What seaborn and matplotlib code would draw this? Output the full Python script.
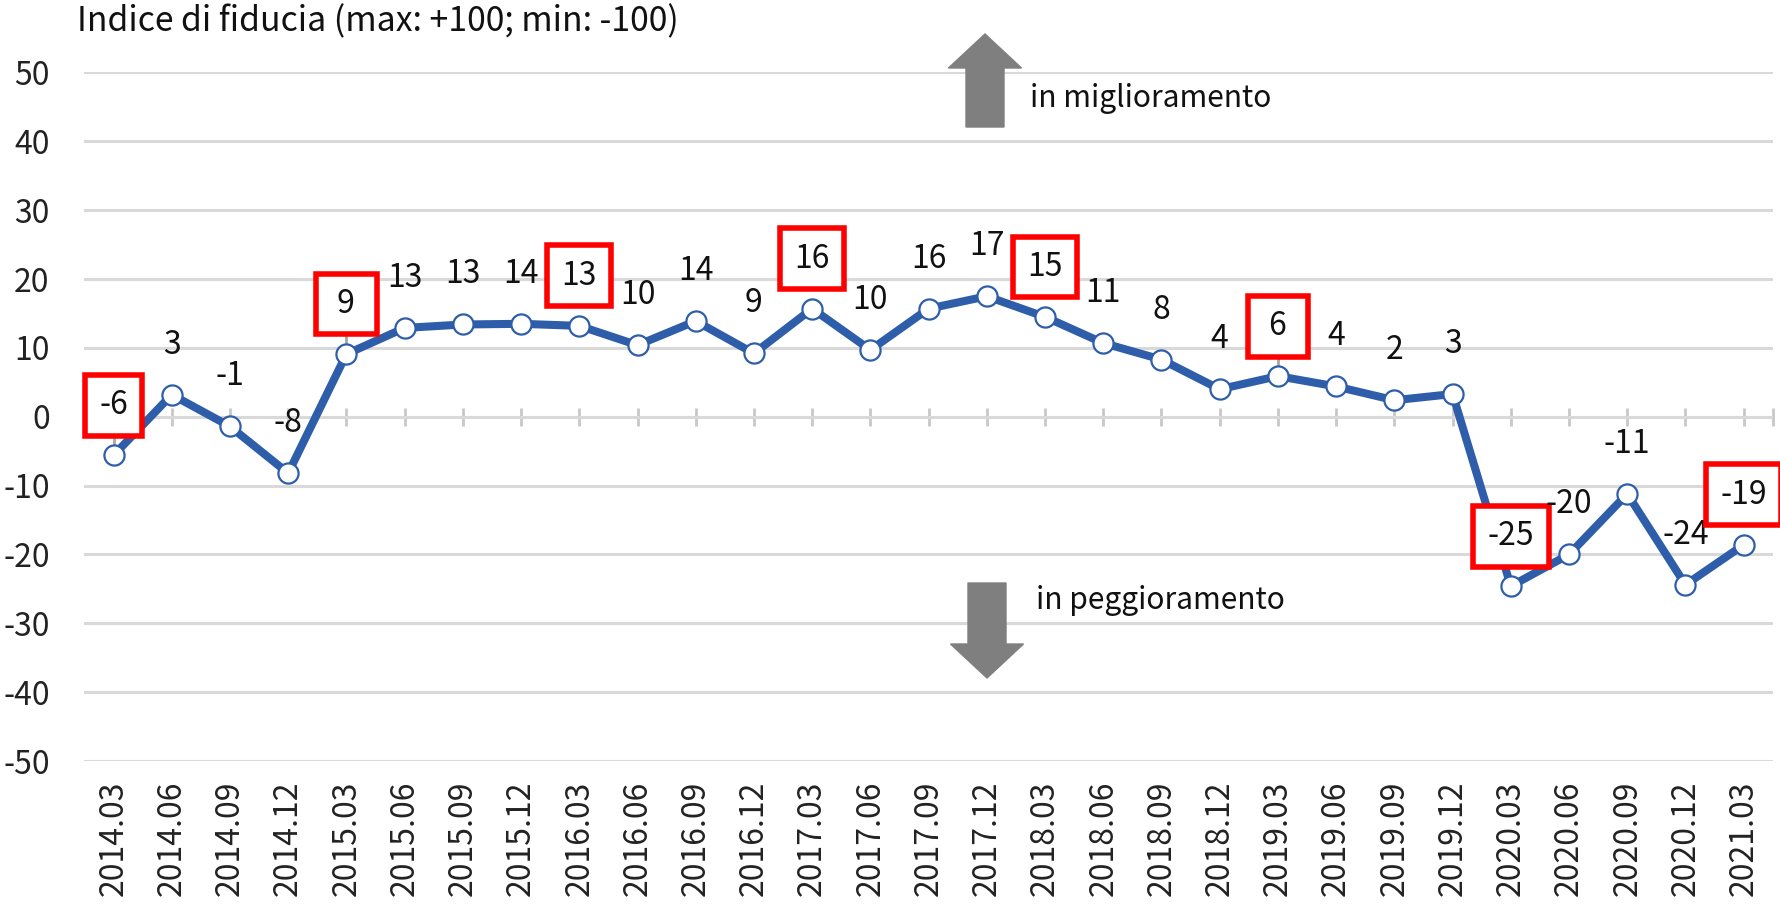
import numpy as np
import pandas as pd
import seaborn as sns
import matplotlib.pyplot as plt
from matplotlib.patches import FancyArrow

# dati
trimestri = ["2014.03", "2014.06", "2014.09", "2014.12",
             "2015.03", "2015.06", "2015.09", "2015.12",
             "2016.03", "2016.06", "2016.09", "2016.12",
             "2017.03", "2017.06", "2017.09", "2017.12",
             "2018.03", "2018.06", "2018.09", "2018.12",
             "2019.03", "2019.06", "2019.09", "2019.12",
             "2020.03", "2020.06", "2020.09", "2020.12",
             "2021.03"]
indice = [-5.6, 3.2, -1.4, -8.2,
          9.1, 12.9, 13.4, 13.5,
          13.2, 10.4, 13.9, 9.2,
          15.7, 9.7, 15.7, 17.5,
          14.5, 10.7, 8.3, 4.0,
          5.9, 4.4, 2.4, 3.3,
          -24.6, -20.0, -11.2, -24.4,
          -18.6]
etichette = ["-6", "3", "-1", "-8",
             "9", "13", "13", "14",
             "13", "10", "14", "9",
             "16", "10", "16", "17",
             "15", "11", "8", "4",
             "6", "4", "2", "3",
             "-25", "-20", "-11", "-24",
             "-19"]
con_linea = ["2014.03", "2015.03", "2019.03"]  # etichette con linea guida

df = pd.DataFrame({"trimestre": trimestri, "indice": indice, "etichetta": etichette})

sns.set_style("white")
plt.rcParams['font.family'] = ['Noto Sans CJK JP', 'DejaVu Sans']
plt.rcParams['axes.unicode_minus'] = False

blu = "#2e5ea9"
grigio = "#d9d9d9"

fig = plt.figure(figsize=(17.81, 9.06), dpi=100)
ax = fig.add_axes([0.0474, 0.160, 0.948, 0.760])

sns.lineplot(data=df, x="trimestre", y="indice", ax=ax, sort=False,
             color=blu, linewidth=5.8, marker="o", markersize=14.5,
             markerfacecolor="white", markeredgecolor=blu, markeredgewidth=1.6,
             zorder=4)

ax.set_xlim(-0.5, len(trimestri) - 0.5)
ax.set_ylim(-50, 50)
ax.set_yticks(np.arange(-50, 51, 10))
ax.yaxis.grid(True, color=grigio, linewidth=2.2)
ax.xaxis.grid(False)
ax.set_axisbelow(True)
for s in ax.spines.values():
    s.set_visible(False)
ax.set_xlabel("")
ax.set_ylabel("")
ax.tick_params(axis="y", length=0, pad=25, labelsize=23, labelcolor="#222222")
ax.tick_params(axis="x", length=0, pad=14, labelsize=23, labelcolor="#222222",
               labelrotation=90)

# tacche sull'asse dello zero
sec = ax.secondary_xaxis(0.5)
sec.set_xticks(list(range(len(trimestri))) + [len(trimestri) - 0.5])
sec.set_xticklabels([])
sec.tick_params(direction="inout", length=13, width=2, color="#c8c8c8",
                labelbottom=False, labeltop=False)
for s in sec.spines.values():
    s.set_visible(False)

# etichette dei valori
for i, row in df.iterrows():
    marzo = row["trimestre"].endswith(".03")
    testo = row["etichetta"]
    if row["trimestre"] in con_linea:
        ax.plot([i, i], [row["indice"], row["indice"] + 3.2], color="#a6a6a6",
                linewidth=2, zorder=3)
    box = None
    if marzo:
        box = dict(boxstyle="square,pad=0.45", facecolor="white",
                   edgecolor="#ff0000", linewidth=4)
        if len(testo) == 1:
            testo = " " + testo + " "  # box piu largo come nell'originale
    ax.annotate(testo, (i, row["indice"]), xytext=(0, 36),
                textcoords="offset points", ha="center", va="center",
                fontsize=23, color="#111111", bbox=box, zorder=5)

# frecce
fig.add_artist(FancyArrow(9.85, 7.79, 0, 0.93, width=0.38, head_width=0.73,
                          head_length=0.34, length_includes_head=True,
                          color="#7f7f7f", transform=fig.dpi_scale_trans))
fig.add_artist(FancyArrow(9.87, 3.23, 0, -0.95, width=0.38, head_width=0.73,
                          head_length=0.34, length_includes_head=True,
                          color="#7f7f7f", transform=fig.dpi_scale_trans))
fig.text(1030 / 1781, 1 - 98 / 906, "in miglioramento", fontsize=21.6,
         ha="left", va="center", color="#111111")
fig.text(1036 / 1781, 1 - 600 / 906, "in peggioramento", fontsize=21.6,
         ha="left", va="center", color="#111111")

fig.text(77 / 1781, 1 - 22 / 906, "Indice di fiducia (max: +100; min: -100)",
         fontsize=24.3, ha="left", va="center", color="#111111")

fig.savefig("out.png", dpi=100)
